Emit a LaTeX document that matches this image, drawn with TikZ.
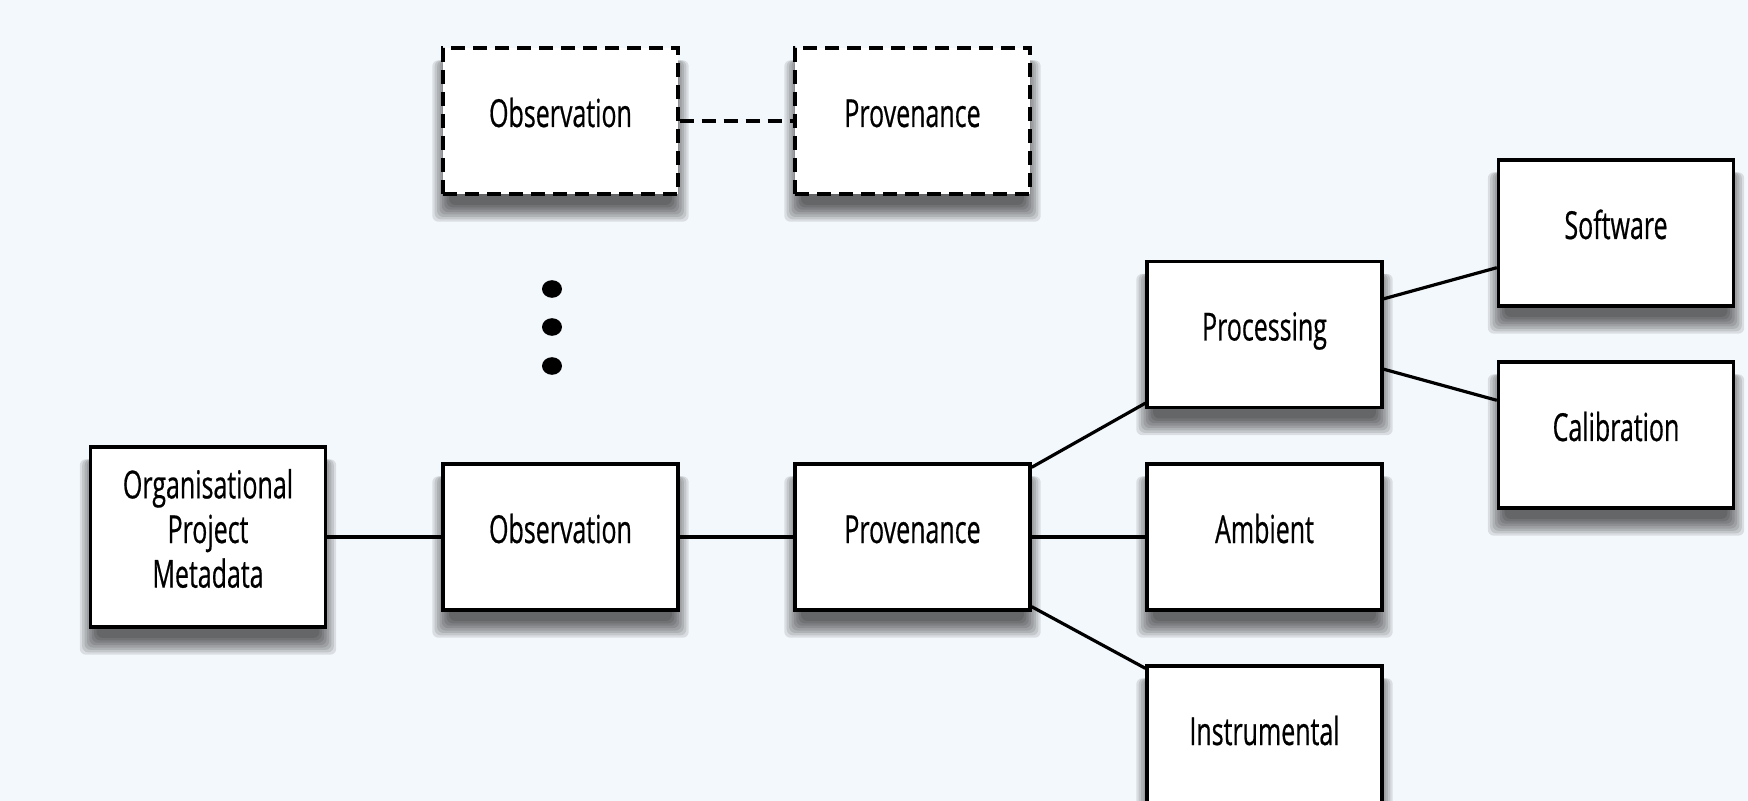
\documentclass[tikz,border=0pt]{standalone}
\usepackage{fontspec}
\setmainfont{Open Sans}[FakeStretch=0.647, FakeBold=0.5]
\definecolor{bgcol}{RGB}{243,248,252}
\pgfdeclarelayer{canvas}
\pgfdeclarelayer{shade}
\pgfsetlayers{canvas,shade,main}
% soft drop shadow under a named node, built from stacked translucent layers
\newcommand\dropshade[1]{%
  \begin{pgfonlayer}{shade}
    \foreach \i in {0,...,7}{%
      \pgfmathsetlengthmacro\xo{(6-1.2*\i)*1pt-1.5pt}%
      \pgfmathsetlengthmacro\yo{(13-1.2*\i)*1pt}%
      \fill[black, fill opacity=0.1, rounded corners=3pt]
        ([xshift=-\xo, yshift=-\yo]#1.south west) rectangle
        ([xshift=\xo, yshift=-7pt]#1.north east);
    }
  \end{pgfonlayer}}
\begin{document}
\begin{tikzpicture}[x=0.5pt,y=-0.5pt,
  box/.style={draw=black, line width=1.7pt, fill=white,
    minimum width=117.5pt, minimum height=73pt, inner sep=0pt,
    align=center, font=\fontsize{19.3}{22.3}\selectfont,
    text height=14pt, text depth=8pt},
  dbox/.style={box, dash pattern=on 7pt off 4pt},
  link/.style={line width=1.6pt},
  dlink/.style={link, dash pattern=on 7pt off 4pt}]
  % canvas
  \useasboundingbox (0,0) rectangle (1748,801);
  \begin{pgfonlayer}{canvas}
    \fill[bgcol] (0,0) rectangle (1748,801);
  \end{pgfonlayer}

  % optional extra observation row
  \node[dbox] (obsD)  at (560.5,121) {Observation};
  \node[dbox] (provD) at (912.5,121) {Provenance};
  \draw[dlink] (obsD.east) -- (provD.west);

  % ellipsis
  \fill (552,289) ellipse (5pt and 4.4pt);
  \fill (552,327) ellipse (5pt and 4.4pt);
  \fill (552,366) ellipse (5pt and 4.4pt);

  % main chain
  \node[box, minimum height=90pt, text height=56pt, text depth=5.4pt] (org)
    at (208,537) {Organisational\\Project\\Metadata};
  \node[box] (obs)   at (560.5,537)  {Observation};
  \node[box] (prov)  at (912.5,537)  {Provenance};
  \node[box] (proc)  at (1264.5,334.5) {Processing};
  \node[box] (amb)   at (1264.5,537) {Ambient};
  \node[box] (instr) at (1264.5,739) {Instrumental};
  \node[box] (soft)  at (1616,233)   {Software};
  \node[box] (calib) at (1616,435)   {Calibration};

  \foreach \n in {obsD,provD,org,obs,prov,proc,amb,instr,soft,calib}
    {\dropshade{\n}}

  \draw[link] (org.east) -- (obs.west);
  \draw[link] (obs.east) -- (prov.west);
  \draw[link] ([yshift=-2.5pt]prov.north east) -- ([yshift=3pt]proc.south west);
  \draw[link] (prov.east) -- (amb.west);
  \draw[link] ([yshift=2.5pt]prov.south east) -- ([yshift=-2pt]instr.north west);
  \draw[link] ([yshift=-19.5pt]proc.north east) -- ([yshift=20pt]soft.south west);
  \draw[link] ([yshift=20pt]proc.south east) -- ([yshift=-20pt]calib.north west);
\end{tikzpicture}
\end{document}
